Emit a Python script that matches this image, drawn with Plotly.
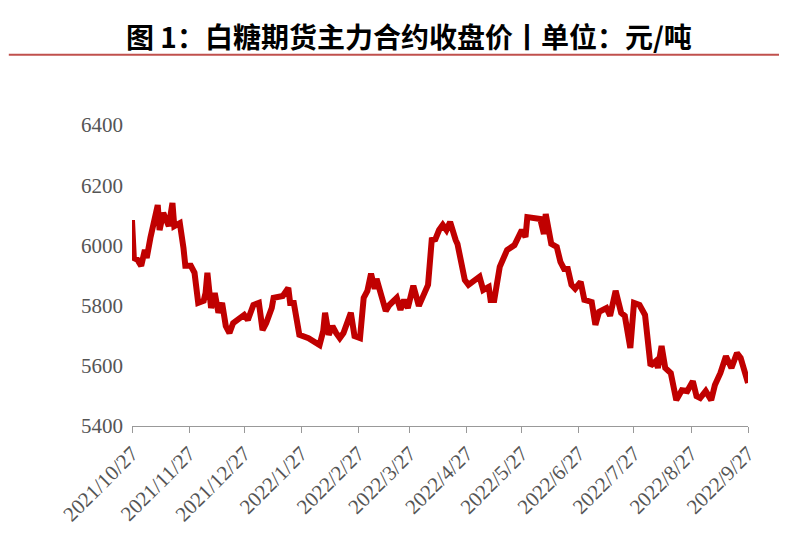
import pandas as pd
import plotly.graph_objects as go

day_offsets = [0,1,3,5,7,8,10,13,14,15,17,20,22,23,26,28,29,32,34,36,39,40,41,43,45,47,49,51,53,55,61,63,66,69,71,73,76,77,82,85,86,88,91,96,102,104,105,107,109,111,113,115,119,121,124,126,128,130,132,133,135,138,140,144,146,148,150,153,156,161,163,165,167,169,171,173,176,177,181,183,189,191,194,195,197,200,204,208,212,214,215,219,222,224,225,228,231,233,235,237,239,241,244,246,250,252,254,258,260,263,266,268,271,273,276,279,281,282,285,286,288,290,293,296,299,302,305,307,309,312,315,317,320,323,326,329,331,335]
prices = [6084,5958,5952,5932,5985,5958,6025,6124,6134,6051,6108,6064,6141,6064,6074,5991,5932,5932,5909,5809,5816,5842,5909,5792,5842,5776,5809,5732,5709,5742,5769,5752,5802,5809,5719,5742,5792,5826,5832,5859,5809,5809,5703,5692,5669,5716,5776,5703,5732,5709,5692,5709,5776,5699,5692,5826,5849,5906,5856,5889,5849,5782,5802,5826,5786,5819,5792,5866,5799,5869,6018,6021,6051,6068,6051,6078,6018,6005,5885,5869,5896,5852,5862,5819,5819,5929,5985,6001,6051,6028,6094,6088,6088,6038,6104,6005,5995,5945,5922,5922,5869,5856,5879,5819,5812,5736,5779,5792,5766,5849,5776,5766,5659,5809,5802,5769,5616,5600,5616,5593,5666,5593,5576,5486,5519,5516,5549,5499,5493,5516,5486,5536,5576,5632,5593,5642,5626,5543]
tick_dates = ["2021-10-27","2021-11-27","2021-12-27","2022-01-27","2022-02-27","2022-03-27","2022-04-27","2022-05-27","2022-06-27","2022-07-27","2022-08-27","2022-09-27"]
tick_labels = ["2021/10/27","2021/11/27","2021/12/27","2022/1/27","2022/2/27","2022/3/27","2022/4/27","2022/5/27","2022/6/27","2022/7/27","2022/8/27","2022/9/27"]
title = "图 1：白糖期货主力合约收盘价丨单位：元/吨"

dates = pd.Timestamp("2021-10-27") + pd.to_timedelta(day_offsets, unit="D")

fig = go.Figure(go.Scatter(x=dates, y=prices, mode="lines",
                           line=dict(color="#c00000", width=6)))
fig.update_layout(
    width=787, height=543, plot_bgcolor="white", paper_bgcolor="white",
    margin=dict(l=124, r=47, t=117, b=125), showlegend=False,
    font=dict(family="Liberation Serif", size=21, color="#555555"),
    xaxis=dict(range=[tick_dates[0], tick_dates[-1]], tickvals=tick_dates, ticktext=tick_labels,
               tickangle=-45, showgrid=False, showline=True, linecolor="#999999",
               ticks="outside", tickcolor="#999999", ticklen=6, automargin=False),
    yaxis=dict(range=[5400, 6400], dtick=200, showgrid=False, showline=False,
               zeroline=False, ticks="", ticklabelstandoff=8, automargin=False),
    shapes=[dict(type="line", xref="paper", yref="paper", x0=-0.2, x1=1.08,
                 y0=1.233, y1=1.233, line=dict(color="#c0504d", width=2))],
    annotations=[dict(text="<b>" + title + "</b>", xref="paper", yref="paper",
                      x=0.45, y=1.297, xanchor="center", yanchor="middle", showarrow=False,
                      font=dict(family="Noto Sans CJK SC", size=28, color="black"))],
)
fig.write_html("out.html")
